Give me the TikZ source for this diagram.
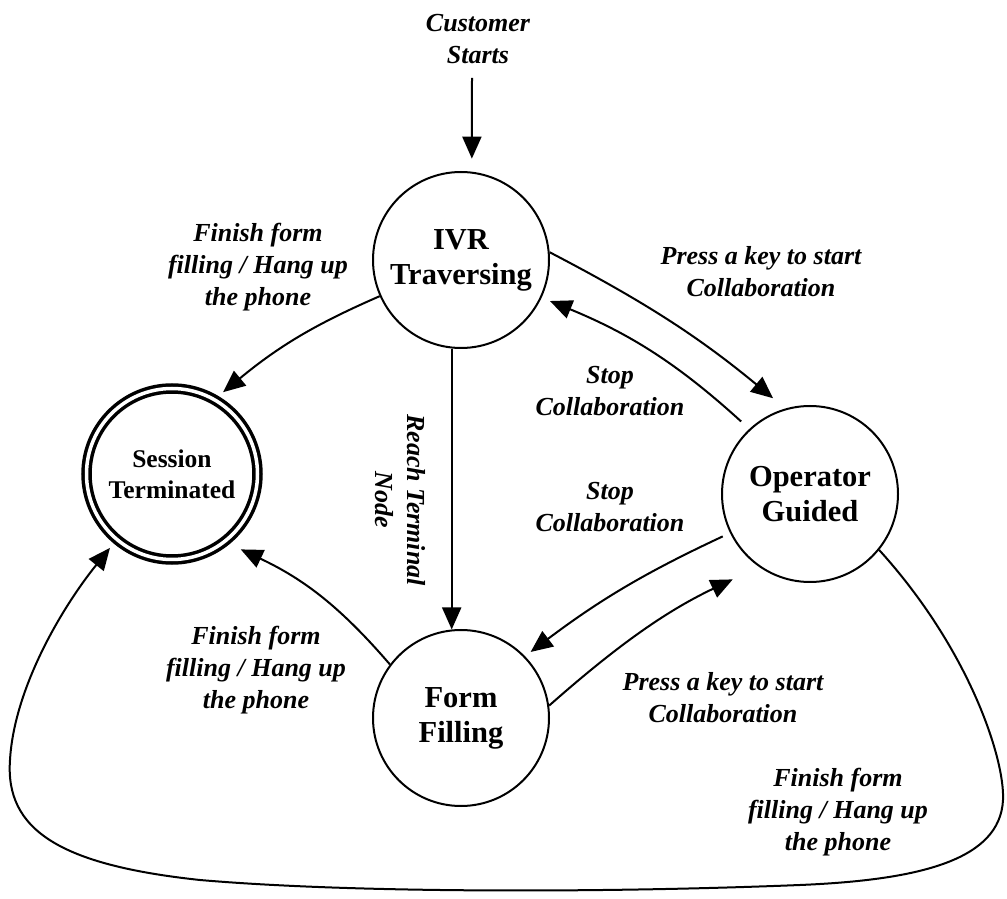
\documentclass[tikz,border=0pt]{standalone}
\usepackage{fontspec}
\setmainfont{Liberation Serif}
\usetikzlibrary{arrows.meta}
\begin{document}
\begin{tikzpicture}[x=1pt,y=1pt,
  state/.style={circle,draw,line width=2pt,minimum size=176pt,inner sep=0pt,align=center,
    font=\fontsize{30.5}{35}\selectfont\bfseries},
  final/.style={circle,draw,line width=3.5pt,double,double distance=3.5pt,minimum size=171pt,
    inner sep=0pt,outer sep=11pt,align=center,font=\fontsize{25.5}{31}\selectfont\bfseries},
  lbl/.style={align=center,inner sep=0pt,font=\fontsize{26}{32}\selectfont\bfseries\itshape},
  arr/.style={line width=2pt,-{Triangle[length=22pt,width=19pt]}},
]
\useasboundingbox (0,0) rectangle (1007,898);

% states
\node[state] (ivr)  at (461,638) {IVR\\Traversing};
\node[final] (sess) at (172,424) {Session\\Terminated};
\node[state] (op)   at (810,404) {Operator\\Guided};
\node[state] (form) at (461,180) {Form\\Filling};

% transition labels
\node[lbl] (cust) at (478,859) {Customer\\Starts};
\node[lbl] (l1) at (258,631) {Finish form\\filling / Hang up\\the phone};
\node[lbl] (l2) at (761,626) {Press a key to start\\Collaboration};
\node[lbl] (l3) at (610,507) {Stop\\Collaboration};
\node[lbl,rotate=-90] (l4) at (400,398) {Reach Terminal\\Node};
\node[lbl] (l5) at (610,391) {Stop\\Collaboration};
\node[lbl] (l6) at (256,228) {Finish form\\filling / Hang up\\the phone};
\node[lbl] (l7) at (723,200) {Press a key to start\\Collaboration};
\node[lbl] (l8) at (838,86) {Finish form\\filling / Hang up\\the phone};

% transitions
\coordinate (entry) at (472,820);
\draw[arr,shorten >=13pt] (entry) -- (ivr.83);
\draw[arr] (ivr.204) to[bend right=8] (sess.58);
\draw[arr] (ivr.264) -- (form.96);
\draw[arr,shorten >=16pt] (ivr.5) to[bend left=6] (op.106);
\draw[arr,shorten <=11pt,shorten >=9pt] (op.133) to[bend right=10] (ivr.-25);
\draw[arr,shorten <=8pt,shorten >=7pt] (op.206) to[bend right=6] (form.44);
\draw[arr,shorten >=29pt] (form.8) to[bend left=8] (op.235);
\draw[arr,shorten >=6pt] (form.143) to[bend right=12] (sess.-49);
\draw[arr] (op.-39)
  .. controls (970,248) and (1005,138) .. (1003,98)
  .. controls (1000,38) and (920,18) .. (800,13)
  .. controls (600,5) and (350,5) .. (200,18)
  .. controls (60,33) and (5,68) .. (10,138)
  .. controls (14,208) and (60,288) .. (sess.230);
\end{tikzpicture}
\end{document}
